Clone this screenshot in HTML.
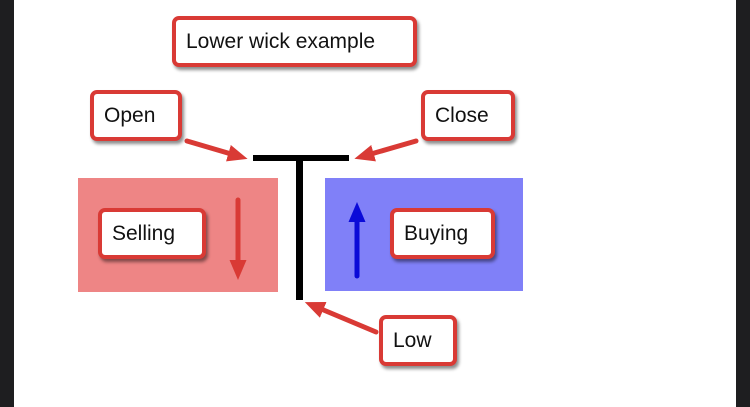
<!DOCTYPE html>
<html><head><style>
body{margin:0;width:750px;height:407px;background:#fff;position:relative;overflow:hidden;font-family:"Liberation Sans",sans-serif}
.b{position:absolute;box-sizing:border-box;border:4px solid #d93a35;border-radius:7px;background:#fff;box-shadow:2px 3px 3px rgba(0,0,0,.45);font-size:21px;color:#111;display:flex;align-items:center;padding-left:10px}
</style></head><body>
<div style="position:absolute;left:0;top:0;width:14px;height:407px;background:#1e1e20"></div>
<div style="position:absolute;left:736px;top:0;width:14px;height:407px;background:#1e1e20"></div>
<div style="position:absolute;left:78px;top:178px;width:200px;height:114px;background:#ee8585"></div>
<div style="position:absolute;left:325px;top:178px;width:198px;height:113px;background:#8080f8"></div>
<svg width="750" height="407" style="position:absolute;left:0;top:0">
<defs>
<marker id="r" markerWidth="4" markerHeight="4" refX="2" refY="2" orient="auto"><path d="M0,0.3L4,2L0,3.7z" fill="#d93a35"/></marker>
<marker id="u" markerWidth="4" markerHeight="4" refX="2" refY="2" orient="auto"><path d="M0,0.3L4,2L0,3.7z" fill="#0b0bd8"/></marker>
</defs>
<rect x="253" y="155" width="96" height="6" fill="#000"/>
<rect x="296" y="155" width="7" height="145" fill="#000"/>
<g stroke="#d93a35" stroke-width="5" stroke-linecap="round">
<line x1="187" y1="141" x2="238" y2="156" marker-end="url(#r)"/>
<line x1="416" y1="141" x2="364" y2="156" marker-end="url(#r)"/>
<line x1="376" y1="332" x2="314" y2="306" marker-end="url(#r)"/>
<line x1="238" y1="200" x2="238" y2="270" marker-end="url(#r)"/>
</g>
<line x1="357" y1="276" x2="357" y2="212" stroke="#0b0bd8" stroke-width="5" stroke-linecap="round" marker-end="url(#u)"/>
</svg>
<div class="b" style="left:172px;top:16px;width:245px;height:51px">Lower wick example</div>
<div class="b" style="left:90px;top:90px;width:92px;height:51px">Open</div>
<div class="b" style="left:421px;top:90px;width:94px;height:51px">Close</div>
<div class="b" style="left:98px;top:208px;width:108px;height:51px">Selling</div>
<div class="b" style="left:390px;top:208px;width:105px;height:51px">Buying</div>
<div class="b" style="left:379px;top:315px;width:78px;height:51px">Low</div>
</body></html>
